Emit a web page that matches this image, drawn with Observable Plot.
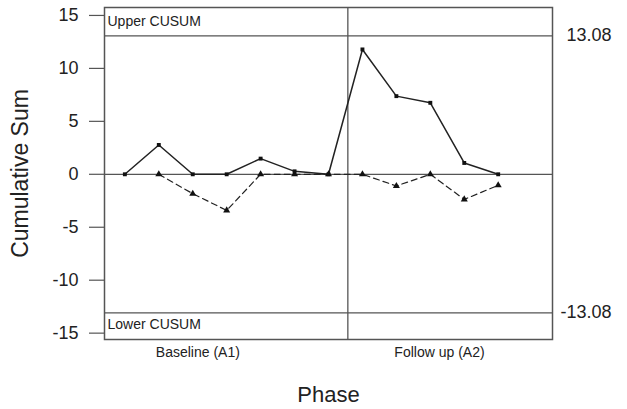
<!DOCTYPE html>
<html>
<head>
<meta charset="utf-8">
<script src="https://cdn.jsdelivr.net/npm/d3@7"></script>
<script src="https://cdn.jsdelivr.net/npm/@observablehq/plot@0.6"></script>
<style>
  html, body { margin: 0; padding: 0; background: #fff; }
  svg { display: block; }
</style>
</head>
<body>
<div id="chart"></div>
<script>
// ---- data ----
const sessions = [1, 2, 3, 4, 5, 6, 7, 8, 9, 10, 11, 12];
const upperCusum = [0, 2.77, 0, 0, 1.48, 0.28, 0, 11.79, 7.38, 6.75, 1.07, 0];
const lowerCusum = [null, 0, -1.83, -3.41, 0, 0, 0, 0, -1.1, 0, -2.37, -1.04];
const controlLimit = 13.08;
const phaseNames = ["Baseline (A1)", "Follow up (A2)"];
const phaseChange = 7.57;
const yTicks = [-15, -10, -5, 0, 5, 10, 15];

const upperData = sessions.map((s, i) => ({s, v: upperCusum[i]}));
const lowerData = sessions.map((s, i) => ({s, v: lowerCusum[i]})).filter(d => d.v !== null);
const phaseLabelX = [3.15, 10.27];
const phaseData = phaseNames.map((name, i) => ({name, x: phaseLabelX[i]}));

const ref = "#555";
const font = "'Liberation Sans', Arial, Helvetica, sans-serif";

const chart = Plot.plot({
  width: 627,
  height: 409,
  marginLeft: 104,
  marginRight: 75,
  marginTop: 7,
  marginBottom: 70,
  style: {fontFamily: font, color: "#222", background: "#fff"},
  x: {domain: [0.4, 13.6], axis: null},
  y: {domain: [-15.6, 15.75]},
  marks: [
    Plot.axisY({ticks: yTicks, tickFormat: d => String(d), tickSize: 15, tickPadding: 11, fontSize: 18, label: null, stroke: ref, strokeWidth: 1.2}),
    Plot.ruleY([0], {stroke: ref, strokeWidth: 1.3}),
    Plot.ruleY([controlLimit, -controlLimit], {stroke: ref, strokeWidth: 1.3}),
    Plot.ruleX([phaseChange], {stroke: ref, strokeWidth: 1.3}),
    Plot.frame({stroke: ref, strokeWidth: 1.5}),
    Plot.line(upperData, {x: "s", y: "v", stroke: "#222", strokeWidth: 1.5}),
    Plot.line(lowerData, {x: "s", y: "v", stroke: "#222", strokeWidth: 1.2, strokeDasharray: "6,4"}),
    Plot.dot(lowerData, {x: "s", y: "v", symbol: "triangle", r: 2.6, fill: "#111", stroke: "none"}),
    Plot.dot(upperData, {x: "s", y: "v", symbol: "square", r: 2.2, fill: "#111", stroke: "none"}),
    Plot.text(["Upper CUSUM"], {frameAnchor: "top-left", dx: 3, dy: 14, textAnchor: "start", lineAnchor: "middle", fontSize: 14, fill: "#222"}),
    Plot.text(["Lower CUSUM"], {frameAnchor: "bottom-left", dx: 3, dy: -15, textAnchor: "start", lineAnchor: "middle", fontSize: 14, fill: "#222"}),
    Plot.text([controlLimit, -controlLimit], {x: 13.6, y: d => d, text: d => String(d.toFixed(2)), dx: 59, dy: -1, textAnchor: "end", fontSize: 18, fill: "#222"}),
    Plot.text(phaseData, {x: "x", frameAnchor: "bottom", y: null, text: "name", dy: 13, lineAnchor: "middle", fontSize: 14, fill: "#222"}),
    Plot.text(["Cumulative Sum"], {frameAnchor: "left", textAnchor: "middle", lineAnchor: "middle", dx: -84, rotate: -90, fontSize: 23, fill: "#222"}),
    Plot.text(["Phase"], {frameAnchor: "bottom", dy: 55, lineAnchor: "middle", fontSize: 22, fill: "#222"})
  ]
});
document.getElementById("chart").appendChild(chart);
</script>
</body>
</html>
